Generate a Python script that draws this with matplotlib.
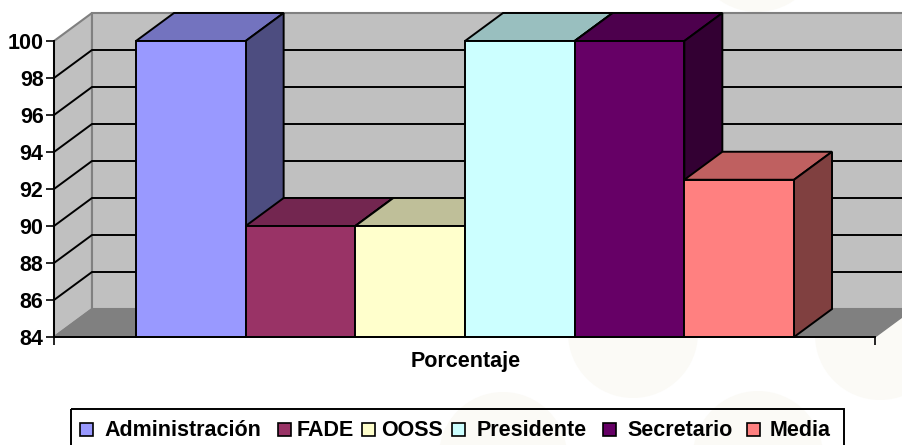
import matplotlib
matplotlib.use("Agg")
import matplotlib.pyplot as plt
from matplotlib.patches import Polygon, Circle, Rectangle

W, H = 902, 445

categories = ["Administración", "FADE", "OOSS", "Presidente", "Secretario", "Media"]
values = [100, 90, 90, 100, 100, 92.5]
front_colors = ["#9999FF", "#993366", "#FFFFCC", "#CCFFFF", "#660066", "#FF8080"]
top_colors = ["#7373BF", "#732650", "#BFBF99", "#99BFBF", "#4D004D", "#BF6060"]
side_colors = ["#4D4D80", "#4D1A33", "#808066", "#668080", "#330033", "#804040"]
yticks = [84, 86, 88, 90, 92, 94, 96, 98, 100]

plt.rcParams["font.family"] = ["Liberation Sans", "DejaVu Sans"]

fig = plt.figure(figsize=(W / 100, H / 100), dpi=100)


def page_axes(zorder):
    a = fig.add_axes([0, 0, 1, 1], zorder=zorder)
    a.set_xlim(0, W)
    a.set_ylim(H, 0)
    a.axis("off")
    return a


# faint circles of the page behind the chart
under = page_axes(0)
for cx, cy, r in [(633, 333, 65), (880, 335, 65), (503, 456, 64), (758, 456, 65), (757, -53, 65)]:
    under.add_patch(Circle((cx, cy), r, fc="#FBFAF6", ec="none"))

# front plane of the 3d box: x is bar position, y is the value
ax = fig.add_axes([54 / W, 1 - 337 / H, (875 - 54) / W, (337 - 41) / H], zorder=1)
ax.patch.set_alpha(0)
bar_w = 109.7
ax.set_xlim(-82 / bar_w, 6 + 81 / bar_w)
ax.set_ylim(84, 100)
dx = 38 / bar_w
dy = 28 / 18.5
x0, x1 = ax.get_xlim()
y0, y1 = ax.get_ylim()

# walls and floor
ax.add_patch(Polygon([(x0, y0), (x0 + dx, y0 + dy), (x0 + dx, y1 + dy), (x0, y1)],
                     fc="#C0C0C0", ec="#808080", lw=1.5, clip_on=False, zorder=1))
ax.add_patch(Rectangle((x0 + dx, y0 + dy), x1 - x0, y1 - y0,
                       fc="#C0C0C0", ec="#808080", lw=1.5, clip_on=False, zorder=1))
ax.add_patch(Polygon([(x0, y0), (x0 + dx, y0 + dy), (x1 + dx, y0 + dy), (x1, y0)],
                     fc="#808080", ec="#808080", lw=1, clip_on=False, zorder=2))
for t in yticks[1:-1]:
    ax.plot([x0, x0 + dx, x1 + dx], [t, t + dy, t + dy], color="black", lw=1.4,
            clip_on=False, zorder=3, solid_joinstyle="miter")

# bars
for i, v in enumerate(values):
    l, r = i, i + 1
    ax.add_patch(Rectangle((l, y0), 1, v - y0, fc=front_colors[i], ec="black", lw=1.4,
                           clip_on=False, zorder=6 + i))
    ax.add_patch(Polygon([(l, v), (l + dx, v + dy), (r + dx, v + dy), (r, v)],
                         fc=top_colors[i], ec="black", lw=1.4, clip_on=False, zorder=5 + i))
    ax.add_patch(Polygon([(r, y0), (r + dx, y0 + dy), (r + dx, v + dy), (r, v)],
                         fc=side_colors[i], ec="black", lw=1.4, clip_on=False, zorder=5 + i))

for s in ["top", "right"]:
    ax.spines[s].set_visible(False)
for s in ["left", "bottom"]:
    ax.spines[s].set_linewidth(1.4)
    ax.spines[s].set_zorder(20)
ax.set_yticks(yticks)
ax.set_xticks([x0, x1])
ax.set_xticklabels([])
ax.tick_params(axis="both", length=6, width=1.2)
ax.set_yticklabels([str(t) for t in yticks], fontsize=15.5, fontweight="bold")
ax.tick_params(axis="y", pad=1.5)

fig.text(465.5 / W, 1 - 362 / H, "Porcentaje", ha="center", va="center",
         fontsize=15.5, fontweight="bold")

# legend laid out by hand, frame has no fill and runs off the bottom
leg_swatch_x = [80, 278, 362, 452, 603, 747]
leg_text_x = [100, 298, 383, 472, 624, 768]
leg_text_end = [266, 353, 442, 592, 737, 833]
top = page_axes(2)
top.add_patch(Rectangle((71, 409), 773, 40, fc="none", ec="black", lw=1.4, clip_on=False))
for i, name in enumerate(categories):
    top.add_patch(Rectangle((leg_swatch_x[i], 423), 13, 13, fc=front_colors[i], ec="black", lw=1.2))
    top.text((leg_text_x[i] + leg_text_end[i]) / 2, 430, name, ha="center", va="center",
             fontsize=15.5, fontweight="bold")

fig.savefig("out.png", dpi=100)
